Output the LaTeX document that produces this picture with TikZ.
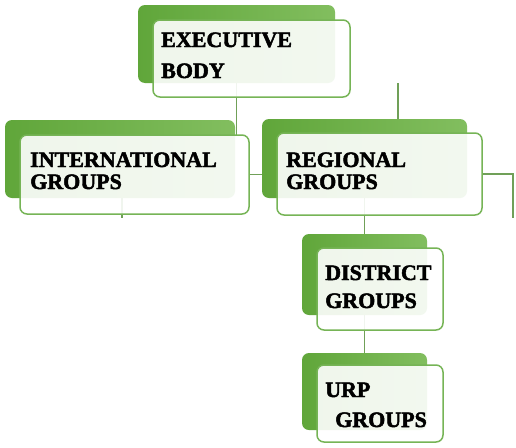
\documentclass[tikz,border=0pt]{standalone}
\usepackage{fontspec}
\setmainfont{Liberation Serif}[BoldFeatures={FakeBold=2.2}]
\begin{document}
\begin{tikzpicture}[x=1pt,y=-1pt]
\definecolor{greenA}{RGB}{96,166,58}
\definecolor{greenB}{RGB}{130,190,95}
\definecolor{greenC}{RGB}{118,180,86}
\definecolor{greenD}{RGB}{112,160,88}
\tikzset{
  backbox/.style={rounded corners=7pt, left color=greenA, right color=greenB, draw=none},
  frontbox/.style={rounded corners=7pt, fill=white, fill opacity=0.9, draw=greenC, line width=1.5pt},
  conn/.style={draw=greenD, line width=1.4pt},
  lbl/.style={anchor=base west, inner sep=0, font=\fontsize{22}{22}\selectfont\bfseries, text=black}
}
\useasboundingbox (0,0) rectangle (516,447);
\fill[white] (0,0) rectangle (516,447);

% back boxes
\path[backbox] (138,5) rectangle (335,83);
\node[inner sep=0, minimum width=197pt, minimum height=78pt] (execB) at (236.5,44) {};
\path[backbox] (5,120) rectangle (235,198);
\node[inner sep=0, minimum width=230pt, minimum height=78pt] (intlB) at (120,159) {};
\path[backbox] (262,119) rectangle (467,198);
\node[inner sep=0, minimum width=205pt, minimum height=79pt] (regB) at (364.5,158.5) {};
\path[backbox] (302,234) rectangle (427,315);
\node[inner sep=0, minimum width=125pt, minimum height=81pt] (distB) at (364.5,274.5) {};
\path[backbox] (302,353) rectangle (427,430);
\node[inner sep=0, minimum width=125pt, minimum height=77pt] (urpB) at (364.5,391.5) {};

% front box anchors
\node[inner sep=0, minimum width=197pt, minimum height=77pt] (execF) at (251.5,58.5) {};
\node[inner sep=0, minimum width=229pt, minimum height=79pt] (intlF) at (134.5,174.5) {};
\node[inner sep=0, minimum width=205pt, minimum height=82pt] (regF) at (379.5,174) {};
\node[inner sep=0, minimum width=126pt, minimum height=82pt] (distF) at (380,289) {};
\node[inner sep=0, minimum width=126pt, minimum height=77pt] (urpF) at (380,403.5) {};

% free ends
\coordinate (t1) at (398,83);
\coordinate (t2) at (513,218);
\coordinate (t3) at (122,218);

% connectors
\draw[conn] (execB.south) -- (execB.south |- intlF.north);
\draw[conn] (t1) -- (t1 |- regB.north);
\draw[conn] (intlF.east) -- (intlF.east -| regB.west);
\draw[conn] (regF.east) -| (t2);
\draw[conn] (t3 |- intlB.south) -- (t3);
\draw[conn] (regB.south) -- (distB.north);
\draw[conn] (distB.south) -- (urpB.north);

% front boxes
\path[frontbox] (153,20) rectangle (350,97);
\path[frontbox] (20,135) rectangle (249,214);
\path[frontbox] (277,133) rectangle (482,215);
\path[frontbox] (317,248) rectangle (443,330);
\path[frontbox] (317,365) rectangle (443,442);

% labels
\node[lbl] (e1) at (161,47) {EXECUTIVE};
\node[lbl] (e2) at (161,78) {BODY};
\node[lbl] (i1) at (30,167) {INTERNATIONAL};
\node[lbl] (i2) at (30,189) {GROUPS};
\node[lbl] (r1) at (286,167) {REGIONAL};
\node[lbl] (r2) at (286,189) {GROUPS};
\node[lbl] (d1) at (325,280) {DISTRICT};
\node[lbl] (d2) at (325,308) {GROUPS};
\node[lbl] (u1) at (325,397) {URP};
\node[lbl] (u2) at (335,427) {GROUPS};
\end{tikzpicture}
\end{document}
